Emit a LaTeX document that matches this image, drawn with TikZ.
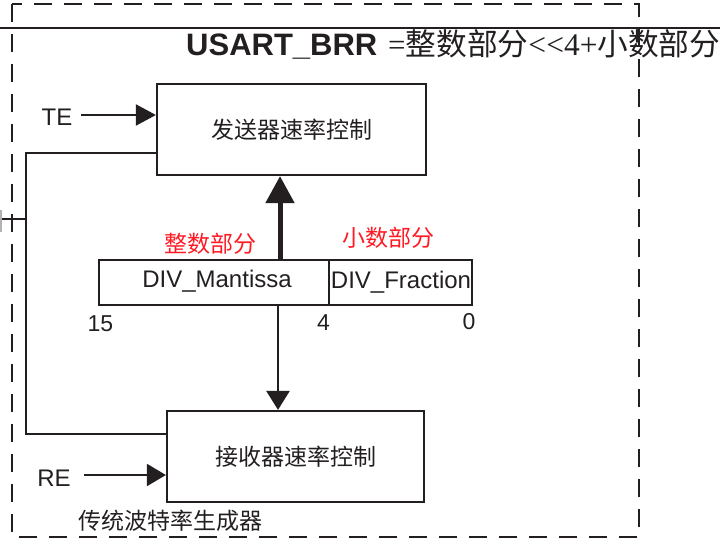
\documentclass[tikz,border=0pt]{standalone}
\usepackage{fontspec}
\setmainfont{Liberation Sans}
\newfontfamily\cjk{Noto Sans CJK SC}
\newfontfamily\serifl{Liberation Serif}
\usetikzlibrary{arrows.meta}
\definecolor{ink}{RGB}{35,31,32}
\definecolor{redtxt}{RGB}{255,25,35}
\begin{document}
\begin{tikzpicture}[x=1pt,y=-1pt,
  box/.style={draw=ink,line width=2.2pt,inner sep=0pt,text=ink},
  cjkbox/.style={box,font=\cjk\fontsize{23}{23}\selectfont},
  lat/.style={inner sep=0pt,text=ink,font=\fontsize{24}{24}\selectfont},
  num/.style={inner sep=0pt,text=ink,font=\fontsize{23}{23}\selectfont},
  redlbl/.style={inner sep=0pt,text=redtxt,font=\cjk\fontsize{23}{23}\selectfont},
  cjklbl/.style={inner sep=0pt,text=ink,font=\cjk\fontsize{23}{23}\selectfont},
  wire/.style={draw=ink,line width=2pt},
  arr/.style={wire,-{Triangle[length=20pt,width=21pt]}},
]
\useasboundingbox (0,0) rectangle (720,541);
% frame lines
\coordinate (tl0) at (0,28);
\coordinate (tl1) at (720,28);
\draw[ink,line width=2pt] (tl0) -- (tl1);
\coordinate (fr0) at (12,4);
\coordinate (fr1) at (639,537);
\draw[ink,line width=2.5pt,dash pattern=on 18pt off 12pt] (fr0) rectangle (fr1);

% title
\node[anchor=base west,inner sep=0pt,text=ink,font=\fontsize{31}{31}\selectfont\bfseries] (title) at (186,55) {USART\_BRR};
\node[anchor=base west,inner sep=0pt,text=ink,font=\fontsize{30.7}{31}\selectfont] (formula) at (388,55)
  {{\serifl\fontsize{31}{31}\selectfont =}{\cjk 整数部分}{\serifl\fontsize{31.5}{31}\selectfont <{}<4+}{\cjk 小数部分}};

% boxes
\node[cjkbox,minimum width=269pt,minimum height=91pt] (tx) at (291.5,129.5) {发送器速率控制};
\node[cjkbox,minimum width=257pt,minimum height=91pt] (rx) at (295.5,456.5) {接收器速率控制};
\node[box,minimum width=230pt,minimum height=45pt] (mant) at (214,282.5) {};
\node[box,minimum width=143pt,minimum height=45pt] (frac) at (400.5,282.5) {};
\node[lat] (manttxt) at (217,281) {DIV\_Mantissa};
\node[lat] (fractxt) at (401,282) {DIV\_Fraction};

% labels
\node[lat] (te) at (57,117.5) {TE};
\node[lat] (re) at (54,478.5) {RE};
\node[num] (n15) at (100.5,323.5) {15};
\node[num] (n4) at (323.5,323) {4};
\node[num] (n0) at (469,322) {0};
\node[redlbl] (intlbl) at (210,244) {整数部分};
\node[redlbl] (fraclbl) at (388,238) {小数部分};
\node[cjklbl] (gen) at (170,521) {传统波特率生成器};

% TE / RE arrows
\coordinate (teout) at (81,115);
\draw[arr] (teout) -- (teout -| tx.west);
\coordinate (reout) at (84,475);
\draw[arr,-{Triangle[length=19pt,width=22pt]}] (reout) -- (reout -| rx.west);

% loop wire
\coordinate (txl) at (157,153);
\coordinate (lx) at (26,219);
\coordinate (rxl) at (166,434);
\coordinate (edge) at (0,219);
\draw[wire] (txl -| tx.west) -| (lx) |- (rxl);
\draw[wire] (lx) -- (edge);
\coordinate (g0) at (1,210);
\coordinate (g1) at (1,232);
\draw[gray!60,line width=1.5pt] (g0) -- (g1);

% vertical arrows
\coordinate (upx) at (280,0);
\draw[draw=ink,line width=5pt,-{Triangle[length=27pt,width=28pt]}] (upx |- mant.north) -- (upx |- tx.south);
\coordinate (dnx) at (278,0);
\draw[draw=ink,line width=2.5pt,-{Triangle[length=19pt,width=23pt]}] (dnx |- mant.south) -- (dnx |- rx.north);
\end{tikzpicture}
\end{document}
